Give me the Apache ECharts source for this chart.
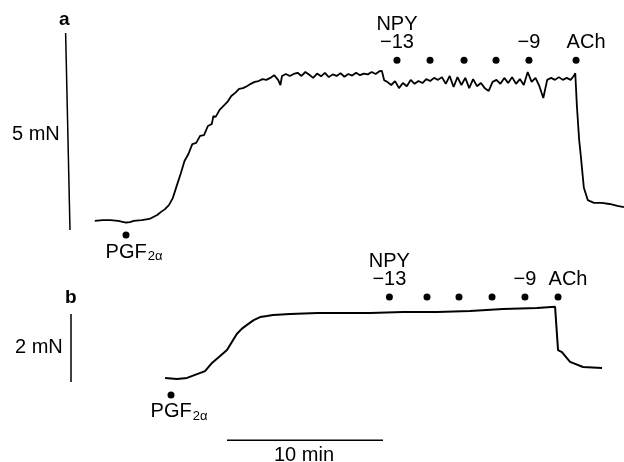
<!DOCTYPE html>
<html>
<head>
<meta charset="utf-8">
<script src="https://cdn.jsdelivr.net/npm/echarts@6/dist/echarts.min.js"></script>
<style>
  html, body { margin: 0; padding: 0; background: #fff; }
  #chart { width: 624px; height: 462px; }
</style>
</head>
<body>
<div id="chart"></div>
<script>
// time in min after PGF2a, force in mN
const traceA = [
  [-2.0, 0.23], [-1.5, 0.25], [-1.0, 0.25], [-0.5, 0.23], [0, 0.19], [0.25, 0.20], [0.5, 0.23],
  [1.0, 0.25], [1.5, 0.28], [2.0, 0.38], [2.25, 0.46], [2.5, 0.53], [2.75, 0.63], [3.0, 0.81],
  [3.25, 1.12], [3.5, 1.42], [3.75, 1.75], [4.0, 1.93], [4.25, 2.18], [4.5, 2.21], [4.75, 2.39],
  [5.0, 2.41], [5.25, 2.64], [5.5, 2.69], [5.6, 2.89], [5.75, 2.87], [6.0, 3.05], [6.25, 3.15],
  [6.5, 3.25], [6.75, 3.40], [7.0, 3.48], [7.25, 3.58], [7.5, 3.60], [7.75, 3.65], [8.0, 3.71],
  [8.25, 3.76], [8.5, 3.78], [8.75, 3.83], [9.0, 3.81], [9.25, 3.86], [9.5, 3.93], [9.75, 3.81],
  [9.9, 3.68], [10.0, 3.91], [10.25, 3.96], [10.5, 3.91], [10.75, 3.96], [11.0, 3.99], [11.25, 3.91],
  [11.5, 4.01], [11.75, 3.94], [12.0, 3.86], [12.25, 3.97], [12.5, 3.90], [12.75, 3.99], [13.0, 3.88],
  [13.25, 3.95], [13.5, 3.91], [13.75, 3.98], [14.0, 3.89], [14.25, 3.96], [14.5, 3.92], [14.75, 3.99],
  [15.0, 3.93], [15.25, 3.97], [15.5, 3.95], [15.75, 4.01], [16.0, 3.96], [16.25, 4.03], [16.4, 4.04],
  [16.55, 3.80], [16.75, 3.76], [17.0, 3.68], [17.25, 3.78], [17.5, 3.60], [17.75, 3.73], [18.0, 3.65],
  [18.25, 3.81], [18.5, 3.71], [18.75, 3.78], [19.0, 3.73], [19.25, 3.83], [19.5, 3.78], [19.75, 3.86],
  [20.0, 3.81], [20.25, 3.88], [20.5, 3.71], [20.75, 3.91], [21.0, 3.63], [21.25, 3.88], [21.5, 3.68],
  [21.75, 3.86], [22.0, 3.60], [22.25, 3.83], [22.5, 3.65], [22.75, 3.73], [23.0, 3.60], [23.25, 3.53],
  [23.5, 3.76], [23.75, 3.81], [24.0, 3.71], [24.25, 3.86], [24.5, 3.73], [24.75, 3.88], [25.0, 3.71],
  [25.25, 3.83], [25.5, 3.68], [25.75, 4.01], [26.0, 3.76], [26.25, 3.86], [26.5, 3.65], [26.75, 3.35],
  [27.0, 3.81], [27.25, 3.86], [27.5, 3.81], [27.75, 3.88], [28.0, 3.81], [28.25, 3.86], [28.5, 3.81],
  [28.7, 3.91], [28.8, 3.98], [28.9, 3.17], [29.05, 2.28], [29.15, 1.90], [29.35, 1.07], [29.6, 0.76],
  [30.0, 0.69], [30.5, 0.69], [31.0, 0.66], [31.5, 0.61], [31.92, 0.58]
];

const traceB = [
  [-0.38, 0.12], [0.38, 0.09], [1.03, 0.12], [1.54, 0.21], [2.18, 0.32], [2.63, 0.56], [3.59, 0.94],
  [4.0, 1.25], [4.23, 1.42], [4.55, 1.57], [4.87, 1.68], [5.3, 1.82], [5.71, 1.91], [6.15, 1.94],
  [6.54, 1.97], [7.63, 2.00], [9.42, 2.03], [12.76, 2.03], [14.87, 2.06], [17.05, 2.06], [19.17, 2.09],
  [21.28, 2.15], [23.46, 2.18], [24.62, 2.21], [24.74, 2.21], [24.81, 0.94], [25.06, 0.88],
  [25.58, 0.59], [26.41, 0.44], [27.63, 0.41]
];

// drug additions: NPY doses (log M) then ACh
const doseLabels = ['NPY\n\u221213', '', '', '', '\u22129', 'ACh'];
const doseTimesA = [17.37, 19.49, 21.67, 23.72, 25.83, 28.85];
const doseTimesB = [14.0, 16.41, 18.46, 20.58, 22.69, 24.81];
const markerForceA = 4.31;
const markerForceB = 2.5;
const pgfForceA = -0.13;
const pgfForceB = -0.38;

// calibration bars
const barA = [[-3.87, 5], [-3.59, 0]];      // 5 mN
const barB = [[-6.41, 2], [-6.41, 0]];      // 2 mN
const timeBar = [[3.59, -1.71], [13.59, -1.71]]; // 10 min

const PX_PER_MIN = 15.6;
const FONT = '"Liberation Sans", Arial, sans-serif';
const INK = '#000';

function doseData(times, force) {
  return times.map((t, i) => ({ value: [t, force], name: doseLabels[i] }));
}

const labelBase = {
  show: true, position: 'top', distance: 5.5, color: INK,
  fontFamily: FONT, fontSize: 20, lineHeight: 18,
  formatter: p => p.name
};
function doseSeries(idx, times, force) {
  const data = doseData(times, force);
  data[data.length - 1].label = { offset: [10, 0] };
  return {
    type: 'scatter', xAxisIndex: idx, yAxisIndex: idx, symbol: 'circle', symbolSize: 7,
    itemStyle: { color: INK, opacity: 1 }, clip: false, silent: true,
    label: labelBase, data: data
  };
}
function pgfSeries(idx, force) {
  return {
    type: 'scatter', xAxisIndex: idx, yAxisIndex: idx, symbol: 'circle', symbolSize: 7,
    itemStyle: { color: INK, opacity: 1 }, clip: false, silent: true,
    label: {
      show: true, position: 'bottom', distance: 4.5, offset: [8, 0],
      formatter: '{m|PGF}{s|2\u03b1}',
      rich: {
        m: { fontFamily: FONT, fontSize: 20, lineHeight: 18, color: INK },
        s: { fontFamily: FONT, fontSize: 13, lineHeight: 18, color: INK, padding: [9, 0, 0, 1] }
      }
    },
    data: [[0, force]]
  };
}
function lineSeries(idx, data, width) {
  return {
    type: 'line', xAxisIndex: idx, yAxisIndex: idx, data: data, showSymbol: false,
    symbol: 'none', clip: false, silent: true,
    lineStyle: { color: INK, width: width }
  };
}

const chart = echarts.init(document.getElementById('chart'), null, { renderer: 'canvas' });
chart.setOption({
  animation: false,
  backgroundColor: '#fff',
  grid: [
    { left: 0, top: 33, width: 624, height: 197 },
    { left: 0, top: 314, width: 624, height: 68 }
  ],
  xAxis: [
    { type: 'value', gridIndex: 0, min: -126 / PX_PER_MIN, max: 498 / PX_PER_MIN, show: false },
    { type: 'value', gridIndex: 1, min: -171 / PX_PER_MIN, max: 453 / PX_PER_MIN, show: false }
  ],
  yAxis: [
    { type: 'value', gridIndex: 0, min: 0, max: 5, show: false },
    { type: 'value', gridIndex: 1, min: 0, max: 2, show: false }
  ],
  graphic: [
    { type: 'text', left: 59, top: 10, style: { text: 'a', font: 'bold 19px ' + FONT, fill: INK } },
    { type: 'text', left: 12, top: 124, style: { text: '5 mN', font: '20px ' + FONT, fill: INK } },
    { type: 'text', left: 65, top: 288, style: { text: 'b', font: 'bold 19px ' + FONT, fill: INK } },
    { type: 'text', left: 15, top: 337, style: { text: '2 mN', font: '20px ' + FONT, fill: INK } },
    { type: 'text', left: 274, top: 445, style: { text: '10 min', font: '20px ' + FONT, fill: INK } }
  ],
  series: [
    lineSeries(0, traceA, 1.8),
    lineSeries(1, traceB, 2),
    lineSeries(0, barA, 1.5),
    lineSeries(1, barB, 1.5),
    lineSeries(1, timeBar, 1.5),
    doseSeries(0, doseTimesA, markerForceA),
    doseSeries(1, doseTimesB, markerForceB),
    pgfSeries(0, pgfForceA),
    pgfSeries(1, pgfForceB)
  ]
});
</script>
</body>
</html>
